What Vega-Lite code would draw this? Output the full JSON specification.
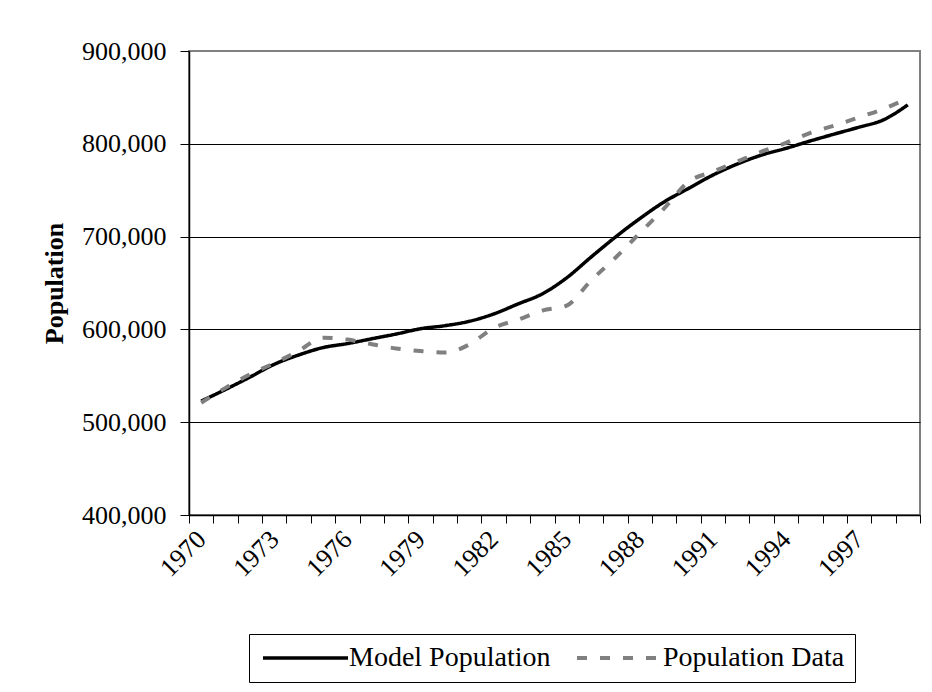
{
  "$schema": "https://vega.github.io/schema/vega-lite/v6.json",
  "autosize": "none",
  "width": 731,
  "height": 464,
  "padding": {"left": 189, "top": 51, "right": 12, "bottom": 177},
  "background": "white",
  "data": {"values": [
    {"Year": 1970, "series": "Model Population", "value": 522700},
    {"Year": 1971, "series": "Model Population", "value": 535300},
    {"Year": 1972, "series": "Model Population", "value": 548600},
    {"Year": 1973, "series": "Model Population", "value": 562400},
    {"Year": 1974, "series": "Model Population", "value": 572400},
    {"Year": 1975, "series": "Model Population", "value": 580400},
    {"Year": 1976, "series": "Model Population", "value": 584700},
    {"Year": 1977, "series": "Model Population", "value": 589900},
    {"Year": 1978, "series": "Model Population", "value": 595000},
    {"Year": 1979, "series": "Model Population", "value": 600700},
    {"Year": 1980, "series": "Model Population", "value": 604000},
    {"Year": 1981, "series": "Model Population", "value": 608700},
    {"Year": 1982, "series": "Model Population", "value": 616600},
    {"Year": 1983, "series": "Model Population", "value": 627400},
    {"Year": 1984, "series": "Model Population", "value": 638300},
    {"Year": 1985, "series": "Model Population", "value": 655600},
    {"Year": 1986, "series": "Model Population", "value": 677900},
    {"Year": 1987, "series": "Model Population", "value": 699500},
    {"Year": 1988, "series": "Model Population", "value": 719400},
    {"Year": 1989, "series": "Model Population", "value": 737400},
    {"Year": 1990, "series": "Model Population", "value": 751900},
    {"Year": 1991, "series": "Model Population", "value": 766300},
    {"Year": 1992, "series": "Model Population", "value": 778200},
    {"Year": 1993, "series": "Model Population", "value": 787900},
    {"Year": 1994, "series": "Model Population", "value": 795100},
    {"Year": 1995, "series": "Model Population", "value": 803100},
    {"Year": 1996, "series": "Model Population", "value": 810600},
    {"Year": 1997, "series": "Model Population", "value": 817900},
    {"Year": 1998, "series": "Model Population", "value": 825800},
    {"Year": 1999, "series": "Model Population", "value": 842000},
    {"Year": 1970, "series": "Population Data", "value": 521000},
    {"Year": 1971, "series": "Population Data", "value": 537000},
    {"Year": 1972, "series": "Population Data", "value": 551500},
    {"Year": 1973, "series": "Population Data", "value": 563500},
    {"Year": 1974, "series": "Population Data", "value": 576800},
    {"Year": 1975, "series": "Population Data", "value": 591000},
    {"Year": 1976, "series": "Population Data", "value": 589000},
    {"Year": 1977, "series": "Population Data", "value": 584000},
    {"Year": 1978, "series": "Population Data", "value": 579500},
    {"Year": 1979, "series": "Population Data", "value": 576600},
    {"Year": 1980, "series": "Population Data", "value": 575000},
    {"Year": 1981, "series": "Population Data", "value": 583700},
    {"Year": 1982, "series": "Population Data", "value": 601500},
    {"Year": 1983, "series": "Population Data", "value": 610500},
    {"Year": 1984, "series": "Population Data", "value": 620300},
    {"Year": 1985, "series": "Population Data", "value": 625700},
    {"Year": 1986, "series": "Population Data", "value": 652700},
    {"Year": 1987, "series": "Population Data", "value": 677200},
    {"Year": 1988, "series": "Population Data", "value": 703800},
    {"Year": 1989, "series": "Population Data", "value": 730300},
    {"Year": 1990, "series": "Population Data", "value": 759100},
    {"Year": 1991, "series": "Population Data", "value": 770000},
    {"Year": 1992, "series": "Population Data", "value": 780800},
    {"Year": 1993, "series": "Population Data", "value": 791600},
    {"Year": 1994, "series": "Population Data", "value": 801000},
    {"Year": 1995, "series": "Population Data", "value": 811800},
    {"Year": 1996, "series": "Population Data", "value": 819800},
    {"Year": 1997, "series": "Population Data", "value": 828600},
    {"Year": 1998, "series": "Population Data", "value": 837600},
    {"Year": 1999, "series": "Population Data", "value": 849000}
  ]},
  "mark": {"type": "line", "interpolate": "monotone", "strokeCap": "butt"},
  "encoding": {
    "x": {
      "field": "Year", "type": "ordinal", "bandPosition": 0.5,
      "scale": {"type": "band", "paddingInner": 0, "paddingOuter": 0},
      "axis": {
        "title": null,
        "tickBand": "extent",
        "labelExpr": "(datum.value - 1970) % 3 == 0 ? datum.value : ''",
        "labelAngle": -45,
        "labelAlign": "right",
        "labelBaseline": "middle",
        "labelPadding": 12,
        "tickSize": 8,
        "labelFlush": false,
        "labelOverlap": false
      }
    },
    "y": {
      "field": "value", "type": "quantitative",
      "scale": {"domain": [400000, 900000], "nice": false, "zero": false},
      "axis": {
        "title": "Population",
        "values": [400000, 500000, 600000, 700000, 800000, 900000],
        "labelExpr": "format(datum.value, ',')",
        "tickSize": 9,
        "labelPadding": 14,
        "titleFontWeight": "bold",
        "titlePadding": 14,
        "gridColor": {"condition": {"test": "datum.value == 900000", "value": "#808080"}, "value": "black"}
      }
    },
    "color": {
      "field": "series", "type": "nominal",
      "scale": {"domain": ["Model Population", "Population Data"], "range": ["#000000", "#808080"]},
      "legend": {
        "title": null,
        "orient": "none",
        "legendX": 60,
        "legendY": 583,
        "direction": "horizontal",
        "labelFont": "Liberation Serif",
        "labelLimit": 0
      }
    },
    "strokeDash": {
      "field": "series", "type": "nominal",
      "scale": {"domain": ["Model Population", "Population Data"], "range": [[1, 0], [10, 13]]},
      "legend": {
        "title": null,
        "orient": "none",
        "legendX": 60,
        "legendY": 583,
        "direction": "horizontal",
        "labelFont": "Liberation Serif",
        "labelLimit": 0
      }
    },
    "strokeWidth": {
      "field": "series", "type": "nominal",
      "scale": {"domain": ["Model Population", "Population Data"], "range": [3.5, 4]},
      "legend": null
    }
  },
  "config": {
    "font": "Liberation Serif",
    "view": {"stroke": "#808080", "strokeWidth": 2},
    "axis": {
      "labelFont": "Liberation Serif",
      "labelFontSize": 26,
      "labelColor": "black",
      "titleFont": "Liberation Serif",
      "titleFontSize": 26,
      "titleColor": "black",
      "domainColor": "black",
      "domainWidth": 1.5,
      "tickColor": "black",
      "tickWidth": 1,
      "gridWidth": 1,
      "gridOpacity": 1
    },
    "axisX": {"grid": false},
    "axisY": {"grid": true},
    "legend": {
      "labelFont": "Liberation Serif",
      "labelFontSize": 28,
      "labelColor": "black",
      "labelLimit": 0,
      "strokeColor": "black",
      "padding": 10,
      "symbolType": "M-1,0L7.5,0",
      "symbolSize": 400,
      "symbolStrokeWidth": 4,
      "labelOffset": 62,
      "columnPadding": 18
    }
  }
}
